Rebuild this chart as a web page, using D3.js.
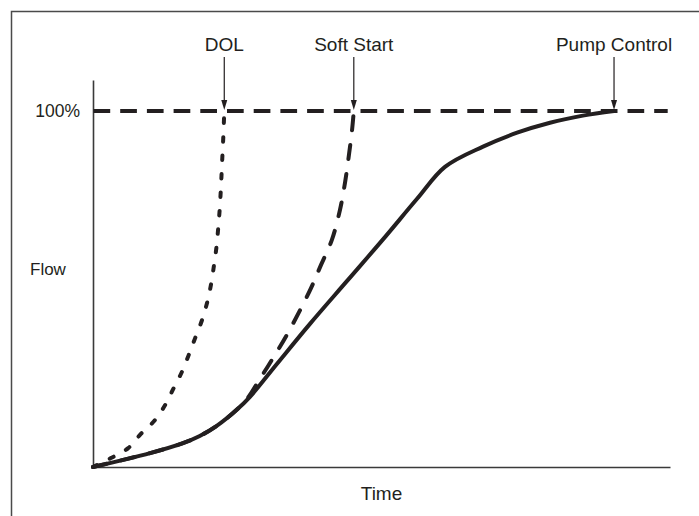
<!DOCTYPE html>
<html>
<head>
<meta charset="utf-8">
<script src="https://cdn.jsdelivr.net/npm/d3@7"></script>
<style>
  html, body { margin: 0; padding: 0; background: #fff; }
  svg { display: block; }
  text { font-family: "Liberation Sans", Arial, sans-serif; fill: #231f20; }
</style>
</head>
<body>
<svg id="chart" width="699" height="516"></svg>
<script>
// ---- data (time and flow in % of full flow) ----
const timeDomain = [0, 100];
const flowDomain = [0, 108.7];
const fullFlow = 100;
const lineEndTime = 99.6;

const dolTime = [0, 3.1, 6.1, 8.3, 10.6, 12.5, 14.0, 15.4, 16.6, 17.7, 18.9, 19.8, 20.5, 21.0, 21.4, 21.7, 21.95, 22.15, 22.3, 22.45, 22.6, 22.75];
const dolFlow = [0, 2.5, 5.3, 9.3, 12.9, 17.4, 22.2, 26.7, 31.5, 36.2, 41.3, 46.3, 51.7, 57.0, 61.8, 67.1, 72.2, 77.8, 82.9, 88.2, 93.3, 100];

const softTime = [0, 9.9, 15.6, 18.5, 21.5, 25.0, 26.9, 28.6, 31.2, 33.6, 35.9, 37.8, 39.5, 41.4, 42.8, 43.7, 44.4, 44.9, 45.2];
const softFlow = [0, 3.9, 6.7, 8.7, 11.6, 16.2, 19.6, 23.9, 30.6, 37.1, 44.1, 50.3, 56.7, 63.8, 72.2, 80.1, 88.2, 94.7, 100];

const pumpTime = [0, 9.9, 15.6, 18.5, 21.5, 25.0, 27.2, 31.9, 37.6, 44.0, 50.3, 56.2, 61.0, 67.6, 73.5, 79.2, 84.9, 90.3];
const pumpFlow = [0, 3.9, 6.7, 8.7, 11.6, 16.2, 19.7, 29.0, 40.2, 52.2, 64.0, 75.4, 84.3, 90.0, 93.9, 96.7, 98.7, 100];

const labels = ["DOL", "Soft Start", "Pump Control"];
const yTickLabel = "100%";
const yTitle = "Flow";
const xTitle = "Time";

// ---- layout ----
const svg = d3.select("#chart");
const ink = "#231f20";
const x = d3.scaleLinear().domain(timeDomain).range([93, 670]);
const y = d3.scaleLinear().domain(flowDomain).range([467, 80]);

// outer frame (left and top edges)
svg.append("path")
  .attr("d", "M11.5,516 V11.5 H699")
  .attr("fill", "none").attr("stroke", "#4a4a4a").attr("stroke-width", 1.5);

// axes
const xAxis = d3.axisBottom(x).tickValues([]).tickSizeOuter(0);
const yAxis = d3.axisLeft(y).tickValues([]).tickSizeOuter(0);
svg.append("g").attr("transform", `translate(0,${y(0)})`).call(xAxis)
  .select(".domain").attr("stroke", "#3a3a3a").attr("stroke-width", 1.6);
svg.append("g").attr("transform", `translate(${x(0)},0)`).call(yAxis)
  .select(".domain").attr("stroke", "#3a3a3a").attr("stroke-width", 1.6);

// 100% reference line
svg.append("line")
  .attr("x1", x(0) + 0.5).attr("x2", x(lineEndTime))
  .attr("y1", y(fullFlow)).attr("y2", y(fullFlow))
  .attr("stroke", ink).attr("stroke-width", 4)
  .attr("stroke-dasharray", "16.7,10");

const line = d3.line().x(d => x(d[0])).y(d => y(d[1])).curve(d3.curveCatmullRom.alpha(0.5));
const zip = (a, b) => a.map((v, i) => [v, b[i]]);

// Pump control (solid)
svg.append("path").datum(zip(pumpTime, pumpFlow))
  .attr("d", line).attr("fill", "none")
  .attr("stroke", ink).attr("stroke-width", 4).attr("stroke-linecap", "round");

// Soft start (dashed)
svg.append("path").datum(zip(softTime, softFlow))
  .attr("d", line).attr("fill", "none")
  .attr("stroke", ink).attr("stroke-width", 4).attr("stroke-linecap", "round")
  .attr("stroke-dasharray", "14,15");

// DOL (dotted)
svg.append("path").datum(zip(dolTime, dolFlow))
  .attr("d", line).attr("fill", "none")
  .attr("stroke", ink).attr("stroke-width", 4).attr("stroke-linecap", "round")
  .attr("stroke-dasharray", "4.5,14");

// annotations with arrows
const ends = [dolTime[dolTime.length - 1], softTime[softTime.length - 1], pumpTime[pumpTime.length - 1]];
const tipY = y(fullFlow) - 1;
ends.forEach((t, i) => {
  const cx = x(t);
  svg.append("line")
    .attr("x1", cx).attr("x2", cx).attr("y1", 57).attr("y2", tipY - 6)
    .attr("stroke", ink).attr("stroke-width", 1.2);
  svg.append("path")
    .attr("d", `M${cx - 3},${tipY - 10} L${cx + 3},${tipY - 10} L${cx},${tipY} Z`)
    .attr("fill", ink);
  svg.append("text")
    .attr("x", cx).attr("y", 51)
    .attr("text-anchor", "middle")
    .attr("font-size", 19)
    .text(labels[i]);
});

// y tick label and titles
svg.append("text")
  .attr("x", 80).attr("y", y(fullFlow)).attr("dy", "0.36em")
  .attr("text-anchor", "end").attr("font-size", 17.5)
  .text(yTickLabel);
svg.append("text")
  .attr("x", 30).attr("y", 275)
  .attr("font-size", 17)
  .text(yTitle);
svg.append("text")
  .attr("x", (x(0) + x(100)) / 2).attr("y", 500)
  .attr("text-anchor", "middle").attr("font-size", 19)
  .text(xTitle);
</script>
</body>
</html>
